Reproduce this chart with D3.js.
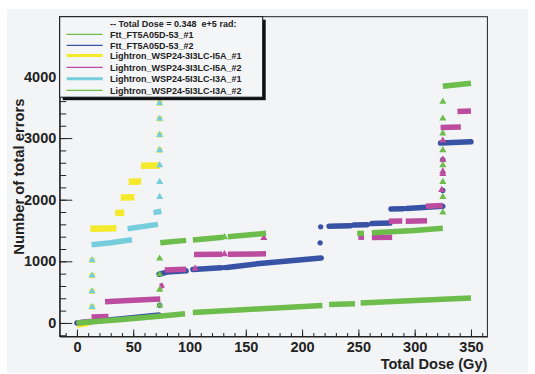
<!DOCTYPE html>
<html>
<head>
<meta charset="utf-8">
<script src="https://cdn.jsdelivr.net/npm/d3@7"></script>
<style>
  body { margin: 0; background: #fff; }
  svg text { font-family: "Liberation Sans", Arial, sans-serif; font-weight: bold; fill: #222; }
</style>
</head>
<body>
<svg id="chart" width="535" height="374"></svg>
<script>
// series names, as in the legend
const seriesNames = [
    "Ftt_FT5A05D-53_#1",
    "Ftt_FT5A05D-53_#2",
    "Lightron_WSP24-3I3LC-I5A_#1",
    "Lightron_WSP24-3I3LC-I5A_#2",
    "Lightron_WSP24-5I3LC-I3A_#1",
    "Lightron_WSP24-5I3LC-I3A_#2"
];
const headerText = "-- Total Dose = 0.348  e+5 rad:";

// x ticks (Gy) and y ticks (errors)
const xTickValues = [0, 50, 100, 150, 200, 250, 300, 350];
const yTickValues = [0, 1000, 2000, 3000, 4000];

// each series: dense runs of points [dose Gy, errors] read as run vertices, plus isolated points
const fttA_runs = [
    [[0, 0], [40, 55], [73, 108], [96, 150]],
    [[103, 170], [160, 228], [218, 282]],
    [[224, 300], [247, 312]],
    [[252, 325], [300, 365], [325, 385], [350, 405]]
];
const fttA_points = [];

const fttB_runs = [
    [[0, 0], [40, 70], [73, 128]],
    [[73, 790], [80, 825], [97, 845]],
    [[103, 866], [128, 895]],
    [[133, 900], [160, 960], [217, 1055]],
    [[224, 1570], [243, 1578]],
    [[246, 1590], [258, 1595]],
    [[262, 1612], [278, 1622]],
    [[279, 1850], [290, 1855]],
    [[293, 1858], [325, 1895]],
    [[323, 2920], [350, 2940]]
];
const fttB_points = [[73.5, 287], [131, 898], [216, 1300], [216.5, 1560], [325, 2150], [325, 2650]];

const l3a_runs = [
    [[0, -30], [11, 5]],
    [[12, 1530], [35, 1535]],
    [[34, 1785], [42, 1790]],
    [[39, 2035], [51, 2040]],
    [[46, 2290], [57, 2295]],
    [[57, 2550], [74, 2555]]
];
const l3a_points = [[13.5, 260], [13.5, 514], [13.5, 769], [13.5, 1018],
    [73.5, 2804], [73.5, 3053], [73.5, 3313], [73.5, 3567]];

const l3b_runs = [
    [[0, 0], [12, 25]],
    [[13, 95], [28, 105]],
    [[25, 345], [50, 368], [74, 390]],
    [[74, 590], [77, 615]],
    [[78, 858], [97, 872]],
    [[104, 1110], [129, 1115]],
    [[134, 1115], [168, 1122]],
    [[250, 1392], [255, 1392]],
    [[262, 1385], [280, 1392]],
    [[277, 1652], [289, 1655]],
    [[292, 1652], [311, 1660]],
    [[310, 1895], [325, 1905]],
    [[323, 3170], [341, 3180]],
    [[338, 3430], [350, 3440]]
];
const l3b_points = [[105, 882], [131, 1115], [166, 1380], [324, 2160], [325, 2420], [325, 2460], [325, 2650], [325, 2960]];

const l5a_runs = [
    [[13, 1270], [30, 1300], [49, 1350]],
    [[45, 1530], [72, 1600]],
    [[68, 1790], [75, 1812]]
];
const l5a_points = [[13.5, 260], [13.5, 514], [13.5, 769], [13.5, 1018],
    [73.5, 2046], [73.5, 2290], [73.5, 2560], [73.5, 2804], [73.5, 3053], [73.5, 3313], [73.5, 3567]];

const l5b_runs = [
    [[74, 1300], [97, 1340]],
    [[103, 1345], [130, 1390]],
    [[134, 1398], [168, 1455]],
    [[249, 1450], [255, 1455]],
    [[262, 1462], [300, 1500], [325, 1535]],
    [[325, 3840], [350, 3890]]
];
const l5b_points = [[73.5, 287], [73.5, 541], [73.5, 790], [73.5, 1045], [131, 1392],
    [325, 1792], [325, 2046], [325, 2290], [325, 2560], [325, 2804], [325, 3075], [325, 3318], [325, 3589]];

// drawing setup
const colors = ["#6cbd4b", "#3853a6", "#f4e92a", "#bb4c9f", "#76cedd", "#6cbd4b"];
const shapes = [d3.symbolTriangle, d3.symbolCircle, d3.symbolSquare, d3.symbolTriangle, d3.symbolTriangle, d3.symbolTriangle];
const allRuns = [fttA_runs, fttB_runs, l3a_runs, l3b_runs, l5a_runs, l5b_runs];
const allPoints = [fttA_points, fttB_points, l3a_points, l3b_points, l5a_points, l5b_points];

let svg = d3.select("#chart");
const frame = { left: 59.7, right: 487.4, top: 16.7, bottom: 336.5 };

// canvas background
svg.append("rect").attr("x", 7).attr("y", 9).attr("width", 521).attr("height", 364).attr("fill", "#f3f4f6");

let x = d3.scaleLinear().domain([-15.3, 364.6]).range([frame.left, frame.right]);
let y = d3.scaleLinear().domain([-220, 4970]).range([frame.bottom, frame.top]);

// frame box
svg.append("rect")
    .attr("x", frame.left).attr("y", frame.top)
    .attr("width", frame.right - frame.left).attr("height", frame.bottom - frame.top)
    .attr("fill", "#f3f4f6").attr("stroke", "#222").attr("stroke-width", 1);

// data: draw in this order so the greens sit over the blue
let drawOrder = [1, 2, 3, 4, 0, 5];
let line = d3.line().x(d => x(d[0])).y(d => y(d[1]));
let plot = svg.append("g");
for (let i of drawOrder) {
    let g = plot.append("g");
    g.selectAll("path.run")
        .data(allRuns[i])
        .enter()
        .append("path")
        .attr("class", "run")
        .attr("d", line)
        .attr("fill", "none")
        .attr("stroke", colors[i])
        .attr("stroke-width", i == 2 ? 6.5 : 5.5)
        .attr("stroke-linecap", i == 1 ? "round" : "butt");
    g.selectAll("path.pt")
        .data(allPoints[i])
        .enter()
        .append("path")
        .attr("class", "pt")
        .attr("transform", d => "translate(" + x(d[0]) + "," + y(d[1]) + ")")
        .attr("d", d3.symbol().type(shapes[i]).size(i == 2 ? 28 : 22))
        .attr("fill", colors[i]);
}

// axes, ticks point inward like ROOT
let xMinor = d3.range(-10, 365, 10);
let yMinor = d3.range(-200, 4970, 200);

svg.append("g")
    .attr("transform", "translate(0," + frame.bottom + ")")
    .call(d3.axisBottom(x).tickValues(xMinor).tickSizeInner(-3.5).tickSizeOuter(0).tickFormat(""))
    .call(g => g.select(".domain").remove());
let xAxis = svg.append("g")
    .attr("transform", "translate(0," + frame.bottom + ")")
    .call(d3.axisBottom(x).tickValues(xTickValues).tickSizeInner(-7).tickSizeOuter(0).tickPadding(5.6));
xAxis.selectAll("text").style("font-size", "14.5px");

svg.append("g")
    .attr("transform", "translate(" + frame.left + ",0)")
    .call(d3.axisLeft(y).tickValues(yMinor).tickSizeInner(-6.5).tickSizeOuter(0).tickFormat(""))
    .call(g => g.select(".domain").remove());
let yAxis = svg.append("g")
    .attr("transform", "translate(" + frame.left + ",0)")
    .call(d3.axisLeft(y).tickValues(yTickValues).tickSizeInner(-12.6).tickSizeOuter(0).tickPadding(3.4).tickFormat(d3.format("d")));
yAxis.selectAll("text").style("font-size", "14.5px");
svg.selectAll(".domain, .tick line").attr("stroke", "#222");

// axis titles
svg.append("text")
    .attr("x", frame.right).attr("y", 369)
    .attr("text-anchor", "end")
    .style("font-size", "14.6px")
    .text("Total Dose (Gy)");
svg.append("text")
    .attr("transform", "translate(24,98.5) rotate(-90)")
    .attr("text-anchor", "end")
    .style("font-size", "14.8px")
    .text("Number of total errors");

// legend with shadow
let lg = svg.append("g");
lg.append("rect").attr("x", frame.left + 3).attr("y", frame.top + 3).attr("width", 203).attr("height", 80.5).attr("fill", "#111");
lg.append("rect").attr("x", frame.left).attr("y", frame.top).attr("width", 203).attr("height", 80.5)
    .attr("fill", "#f4f5f7").attr("stroke", "#111").attr("stroke-width", 1);
lg.append("text").attr("x", 110).attr("y", 27.2).style("font-size", "9px").style("white-space", "pre").text(headerText);
let rowY = [34.3, 45.3, 55.6, 67.3, 78.7, 90.3];
let rows = lg.selectAll("g.row").data(seriesNames).enter().append("g").attr("class", "row");
rows.append("line")
    .attr("x1", 66.7).attr("x2", 102.7)
    .attr("y1", (d, i) => rowY[i]).attr("y2", (d, i) => rowY[i])
    .attr("stroke", (d, i) => colors[i])
    .attr("stroke-width", (d, i) => (i == 2 || i == 4) ? 3 : 1.3);
rows.append("text")
    .attr("x", 110)
    .attr("y", (d, i) => rowY[i] + 3.3)
    .style("font-size", "9px")
    .text(d => d);
</script>
</body>
</html>
